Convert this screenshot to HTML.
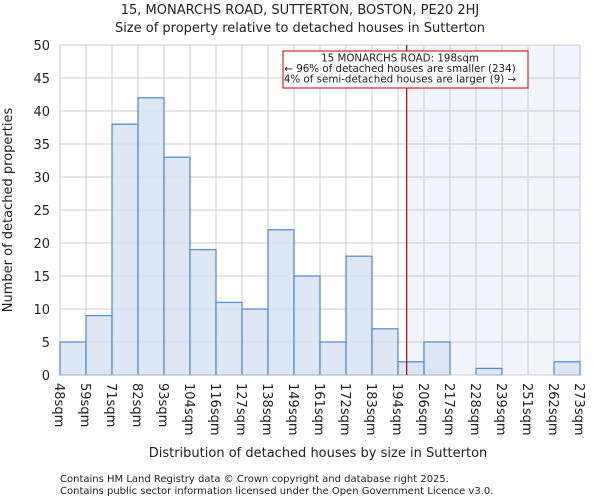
<!DOCTYPE html>
<html><head><meta charset="utf-8"><style>
body{margin:0;background:#fff;font-family:"DejaVu Sans","Liberation Sans",sans-serif;}
svg text{font-family:"DejaVu Sans","Liberation Sans",sans-serif;fill:#222;}
</style></head><body>
<svg id="chart" width="600" height="500" xmlns="http://www.w3.org/2000/svg">
<text x="300" y="14" text-anchor="middle" font-size="13">15, MONARCHS ROAD, SUTTERTON, BOSTON, PE20 2HJ</text>
<text x="300" y="32" text-anchor="middle" font-size="13">Size of property relative to detached houses in Sutterton</text>
<g id="grid"></g><g id="bars"></g><g id="axes"></g>
<text x="318" y="457" text-anchor="middle" font-size="13">Distribution of detached houses by size in Sutterton</text>
<text transform="translate(12,210) rotate(-90)" text-anchor="middle" font-size="13">Number of detached properties</text>
<text x="60" y="482" font-size="10" fill="#444">Contains HM Land Registry data © Crown copyright and database right 2025.</text>
<text x="60" y="494" font-size="10" fill="#444">Contains public sector information licensed under the Open Government Licence v3.0.</text>
</svg>
<script>
const binLabels=["48sqm","59sqm","71sqm","82sqm","93sqm","104sqm","116sqm","127sqm","138sqm","149sqm","161sqm","172sqm","183sqm","194sqm","206sqm","217sqm","228sqm","239sqm","251sqm","262sqm","273sqm"];
const binEdges=[48,59,71,82,93,104,116,127,138,149,161,172,183,194,206,217,228,239,251,262,273];
const counts=[5,9,38,42,33,19,11,10,22,15,5,18,7,2,5,0,1,0,0,2];
const yTicks=[0,5,10,15,20,25,30,35,40,45,50];
const propertySize=198;
const annotationLines=["15 MONARCHS ROAD: 198sqm","← 96% of detached houses are smaller (234)","4% of semi-detached houses are larger (9) →"];
const NS="http://www.w3.org/2000/svg";
const L=60,R=580,T=45,B=375,yMax=50;
const nb=counts.length,bw=(R-L)/nb;
const xi=i=>L+i*bw;
const xv=v=>{let i=0;while(i<binEdges.length-2&&v>binEdges[i+1])i++;return xi(i)+(v-binEdges[i])/(binEdges[i+1]-binEdges[i])*bw;};
const y=v=>B-v/yMax*(B-T);
function mk(tag,attrs,parent){const e=document.createElementNS(NS,tag);for(const k in attrs)e.setAttribute(k,attrs[k]);parent.appendChild(e);return e;}
const grid=document.getElementById('grid'),bars=document.getElementById('bars'),axes=document.getElementById('axes');
const px=xv(propertySize);
let sh=mk('rect',{x:px,y:T,width:R-px,height:B-T,fill:'#f2f5fd'},grid);


yTicks.forEach(t=>{
 let g=mk('line',{x1:L,x2:R,y1:y(t),y2:y(t),stroke:'#cccccc'},grid);
 
 
 let tx=mk('text',{x:L-10,y:y(t)+5,'text-anchor':'end','font-size':'13'},axes);
 tx.textContent=t;
 
 
});
binLabels.forEach((lb,i)=>{
 let g=mk('line',{x1:xi(i),x2:xi(i),y1:T,y2:B,stroke:'#cccccc'},grid);
 
 
 let tx=mk('text',{transform:`translate(${xi(i)-5},${B+8}) rotate(90)`,'font-size':'13'},axes);
 tx.textContent=lb;
 
 
});
counts.forEach((c,i)=>{
 if(c<=0)return;
 let r=mk('rect',{x:xi(i),y:y(c),width:bw,height:B-y(c),fill:'#dae4f3','fill-opacity':0.9,stroke:'#5a8fd4','stroke-width':1.3},bars);
 
 
});
let ax=mk('line',{x1:L,x2:R,y1:B,y2:B,stroke:'#cccccc'},axes);


let ml=mk('line',{x1:px,x2:px,y1:T,y2:B,stroke:'#b00000','stroke-width':1.2},axes);


let box=mk('rect',{x:283,y:51,width:245,height:37,fill:'#fff',stroke:'#c00000','stroke-width':1},axes);


annotationLines.forEach((s,i)=>{
 let t=mk('text',{x:400,y:61.5+i*10.5,'text-anchor':'middle','font-size':'10.3'},axes);
 t.textContent=s;
 
 
});
</script>
</body></html>
